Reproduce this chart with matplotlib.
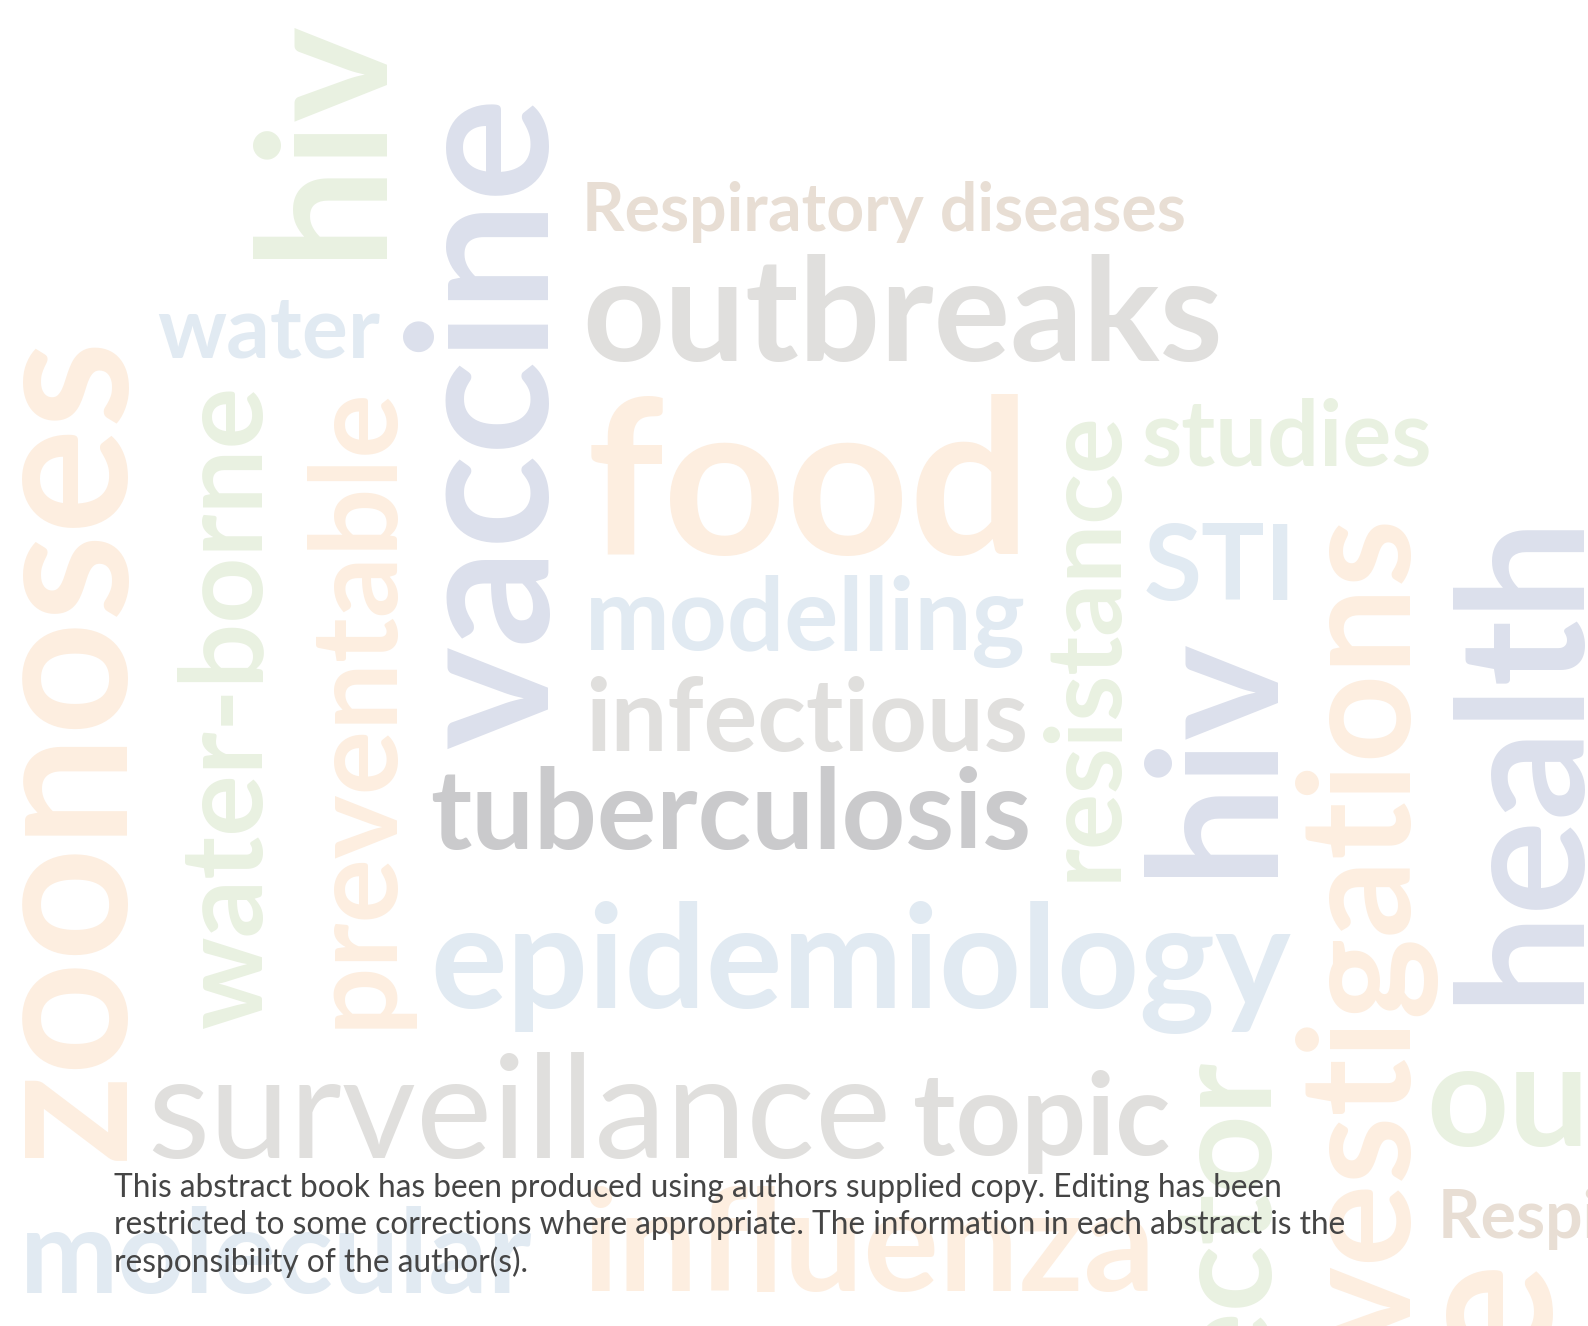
import matplotlib
matplotlib.use("Agg")
import matplotlib.pyplot as plt

# word cloud cover page - words and colour groups
WORDS = ["hiv", "vaccine", "Respiratory diseases", "outbreaks", "water",
         "zoonoses", "water-borne", "preventable", "food", "resistance",
         "studies", "STI", "modelling", "infectious", "tuberculosis", "hiv",
         "investigations", "health", "epidemiology", "surveillance", "topic",
         "vector", "outbreaks", "Respiratory diseases", "molecular",
         "influenza", "preventable"]
WORD_GROUPS = ["green", "lavender", "beige", "grey", "blue",
               "peach", "green", "peach", "peach", "green",
               "green", "blue", "blue", "grey", "darkgrey", "lavender",
               "peach", "lavender", "blue", "grey", "grey",
               "green", "green", "beige", "blue",
               "peach", "peach"]
NOTE_LINES = [
    "This abstract book has been produced using authors supplied copy. Editing has been",
    "restricted to some corrections where appropriate. The information in each abstract is the",
    "responsibility of the author(s).",
]

GROUP_COLORS = {
    "green": "#e9f1e1",
    "lavender": "#dce0ec",
    "beige": "#e8ded4",
    "grey": "#e0dfdd",
    "darkgrey": "#cacacc",
    "peach": "#fdeee0",
    "blue": "#e1eaf2",
}

# layout in pixels: x, y, length along the word, rotation, ha, va, part used to size
LAYOUT = [
    (377, 258, 243, 90, "left", "baseline", None),
    (548, 749, 653, 90, "left", "baseline", None),
    (582, 231, 603, 0, "left", "baseline", None),
    (582, 361, 641, 0, "left", "baseline", None),
    (157, 357, 223, 0, "left", "baseline", None),
    (123, 1160, 826, 90, "left", "baseline", None),
    (261, 1028, 643, 90, "left", "baseline", None),
    (391, 1028, 643, 90, "left", "baseline", None),
    (587, 554, 445, 0, "left", "baseline", None),
    (1116, 881, 471, 90, "left", "baseline", None),
    (1142, 466, 291, 0, "left", "baseline", None),
    (1144, 600, 153, 0, "left", "baseline", None),
    (585, 650, 440, 0, "left", "baseline", None),
    (585, 751, 443, 0, "left", "baseline", None),
    (430, 849, 601, 0, "left", "baseline", None),
    (1268, 876, 243, 90, "left", "baseline", None),
    (1404, 510, 830, 90, "right", "baseline", "vestigations"),
    (1443, 508, 495, 90, "right", "top", None),
    (430, 1008, 861, 0, "left", "baseline", None),
    (147, 1158, 744, 0, "left", "baseline", None),
    (913, 1155, 257, 0, "left", "baseline", None),
    (1271, 1062, 182, 90, "right", "baseline", "tor"),
    (1426, 1146, 641, 0, "left", "baseline", None),
    (1438, 1238, 603, 0, "left", "baseline", None),
    (20, 1293, 512, 0, "left", "baseline", None),
    (582, 1291, 573, 0, "left", "baseline", None),
    (1540, 1250, 108, 90, "right", "baseline", "e"),
]

W, H = 1588, 1326
fig = plt.figure(figsize=(W / 100, H / 100), dpi=100, facecolor="white")
ax = fig.add_axes([0, 0, 1, 1])
ax.set_xlim(0, W)
ax.set_ylim(H, 0)
ax.axis("off")
renderer = fig.canvas.get_renderer()


def fit_size(text, length, weight, family="Lato"):
    probe = ax.text(0, 0, text, fontsize=100, family=family, weight=weight)
    w = probe.get_window_extent(renderer).width
    probe.remove()
    return 100 * length / w


for word, group, (x, y, length, rot, ha, va, part) in zip(WORDS, WORD_GROUPS, LAYOUT):
    weight = "normal" if word == "surveillance" else "bold"
    size = fit_size(part or word, length, weight)
    ax.text(x, y, word, fontsize=size, family="Lato", weight=weight,
            color=GROUP_COLORS[group], rotation=rot, rotation_mode="anchor",
            ha=ha, va=va, zorder=1)

note_size = fit_size(NOTE_LINES[0], 1165, "normal")
for i, line in enumerate(NOTE_LINES):
    ax.text(114, 1197 + i * 37.5, line, fontsize=note_size, family="Lato",
            color="#454545", ha="left", va="baseline", zorder=3)

fig.savefig("out.png", dpi=100, facecolor="white")
